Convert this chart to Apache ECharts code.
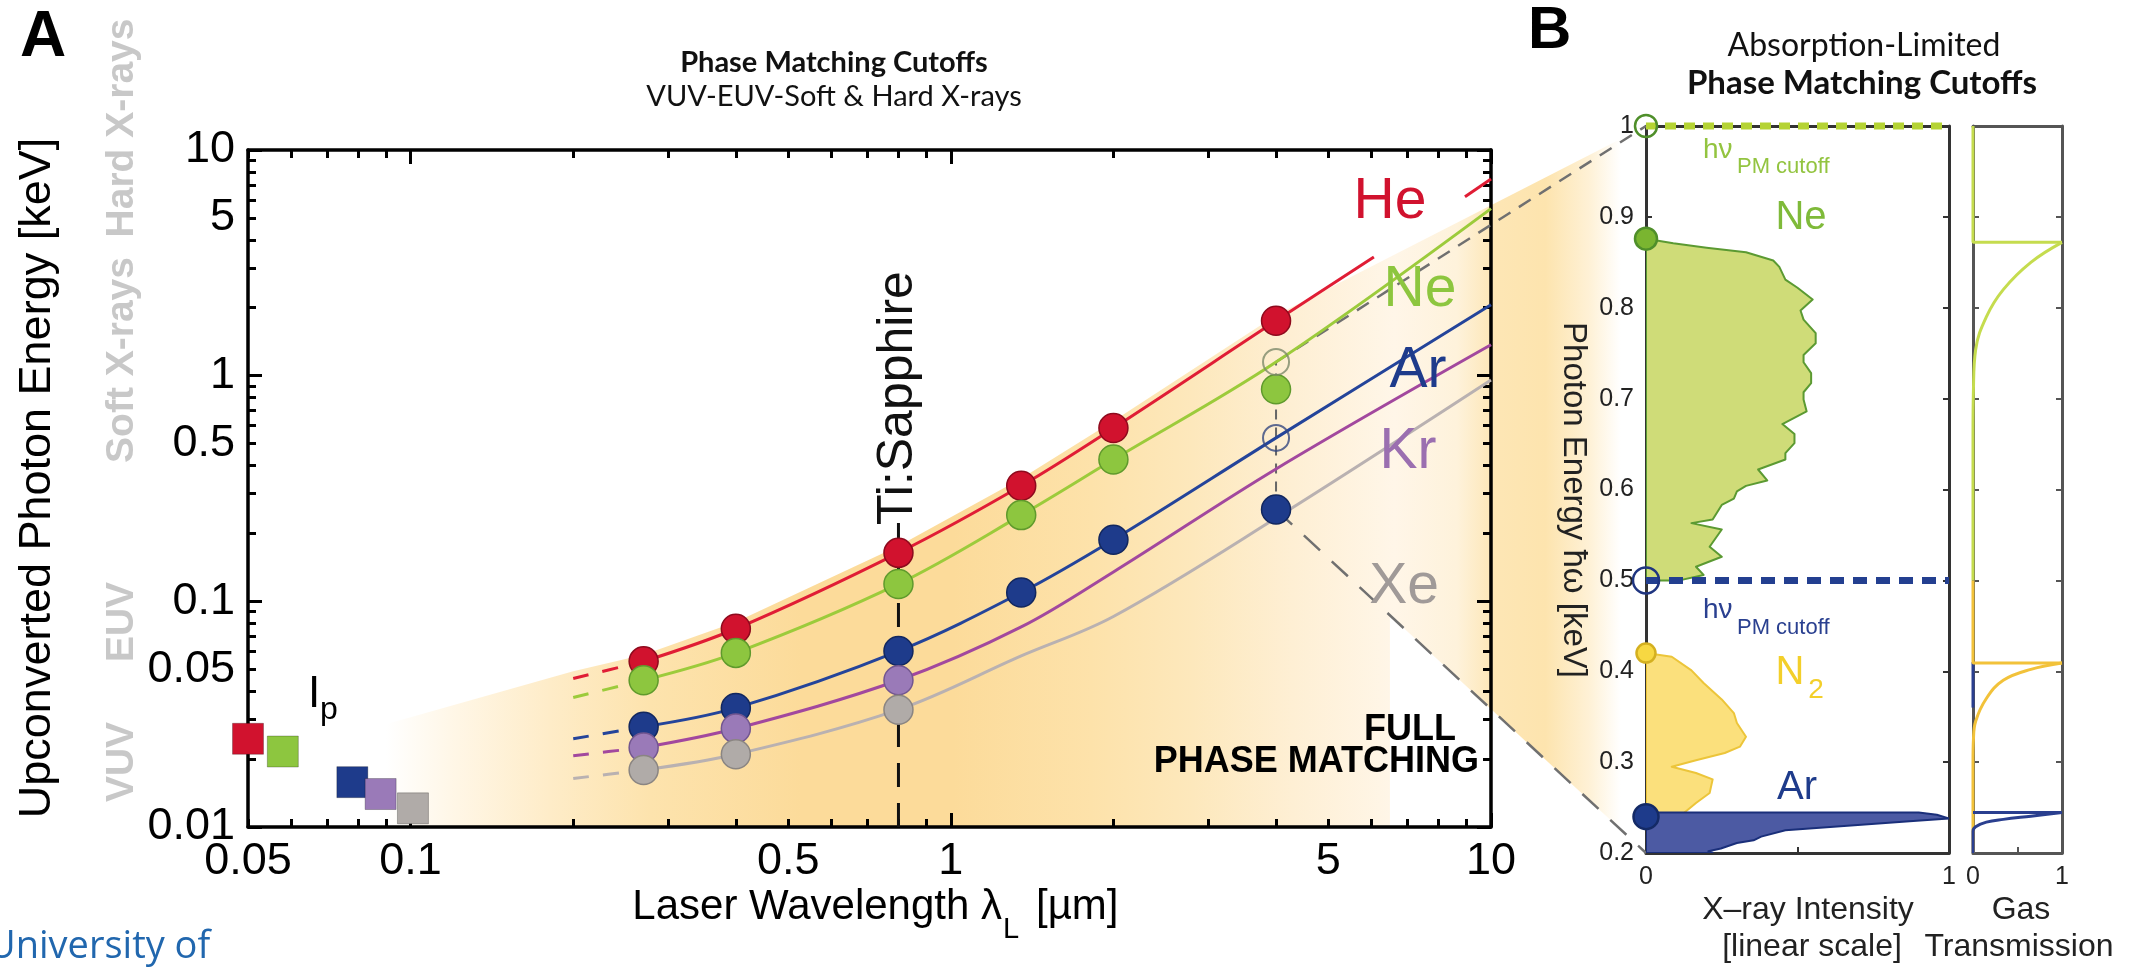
<!DOCTYPE html>
<html>
<head>
<meta charset="utf-8">
<script src="https://cdn.jsdelivr.net/npm/echarts@6/dist/echarts.min.js"></script>
<style>
  html, body { margin: 0; padding: 0; background: #ffffff; }
  #chart { width: 2141px; height: 967px; }
</style>
</head>
<body>
<div id="chart"></div>
<script>
// ---------- Panel A: phase-matching cutoffs vs. laser wavelength ----------
const gases = ['He', 'Ne', 'Ar', 'Kr', 'Xe'];

// measured cutoffs (filled circles): wavelength in µm, photon energy in keV
const measuredWavelengths = [0.27, 0.4, 0.8, 1.35, 2.0, 4.0];
const heMeasured = [0.0542, 0.0756, 0.164, 0.325, 0.586, 1.75];
const neMeasured = [0.0447, 0.0591, 0.1194, 0.241, 0.425, 0.87];
const arMeasured = [0.0278, 0.0337, 0.0602, 0.1094, 0.1875, 0.255];
const krMeasured = [0.0225, 0.0273, 0.0447];
const xeMeasured = [0.0179, 0.0210, 0.0331];

// predicted phase-matching cutoffs in the mid-IR (open circles)
const midIrWavelength = 4.0;
const nePmCutoff = 1.15;
const arPmCutoff = 0.53;

// ionization potentials (squares), keV, with their horizontal slots in µm
const ipSlots = [0.05, 0.058, 0.078, 0.088, 0.101];
const ionizationPotentials = [0.0246, 0.0216, 0.0158, 0.0140, 0.0121];

// theoretical cutoff curves [µm, keV]; the lead-in part is dashed
const heLead = [[0.2, 0.0455], [0.27, 0.0542]];
const heCurve = [[0.27, 0.0542], [0.4, 0.0756], [0.8, 0.164], [1.35, 0.325], [2.0, 0.586], [4.0, 1.75], [6.07, 3.36]];
const heCurveTail = [[8.95, 6.2], [10, 7.44]];
const neLead = [[0.2, 0.0375], [0.27, 0.0447]];
const neCurve = [[0.27, 0.0447], [0.4, 0.0591], [0.8, 0.1194], [1.35, 0.241], [2.0, 0.425], [4.0, 1.15], [10, 5.5]];
const arLead = [[0.2, 0.0246], [0.27, 0.0278]];
const arCurve = [[0.27, 0.0278], [0.4, 0.0337], [0.8, 0.0602], [1.35, 0.1094], [2.0, 0.1875], [4.0, 0.53], [10, 2.06]];
const krLead = [[0.2, 0.0207], [0.27, 0.0225]];
const krCurve = [[0.27, 0.0225], [0.4, 0.0273], [0.8, 0.0447], [1.35, 0.077], [2.0, 0.135], [4.0, 0.386], [10, 1.37]];
const xeLead = [[0.2, 0.0164], [0.27, 0.0179]];
const xeCurve = [[0.27, 0.0179], [0.4, 0.0210], [0.8, 0.0331], [1.35, 0.0573], [2.0, 0.0857], [4.0, 0.234], [10, 0.957]];

// full phase matching region: upper envelope [µm, keV] and its lower-right corner wavelength
const phaseMatchedEnvelope = [[0.09, 0.01], [0.09, 0.0285], [0.2, 0.049], [0.27, 0.058], [0.4, 0.081],
  [0.8, 0.176], [1.35, 0.35], [2.0, 0.63], [4.0, 1.85]];
const phaseMatchedCornerWavelength = 6.5;

// Ti:Sapphire marker
const tiSapphireWavelength = 0.8;
const tiSapphireLineTop = 0.23;

// axis ticks and labels (log axes)
const xTickLabels = [0.05, 0.1, 0.5, 1, 5, 10];
const xMajorTicks = [0.1, 1, 10];
const xMinorTicks = [0.05, 0.06, 0.07, 0.08, 0.09, 0.2, 0.3, 0.4, 0.5, 0.6, 0.7, 0.8, 0.9, 2, 3, 4, 5, 6, 7, 8, 9];
const yTickLabels = [0.01, 0.05, 0.1, 0.5, 1, 5, 10];
const yMajorTicks = [0.01, 0.1, 1, 10];
const yMinorTicks = [0.02, 0.03, 0.04, 0.05, 0.06, 0.07, 0.08, 0.09, 0.2, 0.3, 0.4, 0.5, 0.6, 0.7, 0.8, 0.9, 2, 3, 4, 5, 6, 7, 8, 9];

// ---------- Panel B: absorption-limited spectra ----------
const energyTicks = [0.2, 0.3, 0.4, 0.5, 0.6, 0.7, 0.8, 0.9, 1.0];
const intensityLabels = [0, 1];
const intensityTicks = [0.5];

// spectra outlines: [intensity (linear, 0..1), photon energy keV]
const neSpectrum = [[0, 0.876], [0.09, 0.871], [0.2, 0.866], [0.33, 0.861], [0.42, 0.852], [0.44, 0.845], [0.46, 0.831],
  [0.5, 0.822], [0.55, 0.809], [0.51, 0.797], [0.52, 0.787], [0.56, 0.772], [0.56, 0.761], [0.52, 0.748], [0.52, 0.74],
  [0.545, 0.728], [0.545, 0.717], [0.52, 0.707], [0.52, 0.699], [0.53, 0.686], [0.45, 0.672], [0.49, 0.661], [0.49, 0.651],
  [0.46, 0.64], [0.46, 0.633], [0.37, 0.622], [0.40, 0.61], [0.33, 0.604], [0.30, 0.598], [0.29, 0.59], [0.25, 0.583],
  [0.22, 0.567], [0.15, 0.563], [0.25, 0.556], [0.21, 0.537], [0.25, 0.526], [0.165, 0.515], [0.19, 0.506], [0.11, 0.5], [0, 0.5]];
const n2Spectrum = [[0, 0.42], [0.085, 0.416], [0.15, 0.401], [0.19, 0.387], [0.25, 0.369], [0.29, 0.354], [0.30, 0.343],
  [0.33, 0.328], [0.31, 0.317], [0.26, 0.31], [0.165, 0.302], [0.085, 0.295], [0.165, 0.288], [0.22, 0.281], [0.21, 0.266],
  [0.165, 0.255], [0.125, 0.244], [0.09, 0.235], [0.07, 0.227], [0.065, 0.21], [0.07, 0.2], [0, 0.2]];
const arSpectrum = [[0, 0.2445], [0.9, 0.2445], [0.96, 0.242], [1.0, 0.238], [0.87, 0.235], [0.665, 0.23], [0.46, 0.225],
  [0.38, 0.218], [0.355, 0.214], [0.30, 0.211], [0.247, 0.205], [0.206, 0.202], [0.22, 0.2], [0, 0.2]];

// cutoff energies (keV) marked on the energy axis
const neCutoffEnergy = 1.0;
const arCutoffEnergy = 0.5;
const neEdgeEnergy = 0.876;
const n2EdgeEnergy = 0.42;
const arEdgeEnergy = 0.24;

// gas transmission [transmission, keV]
const neTransmissionStep = [[0, 1.0], [0, 0.872], [1, 0.872]];
const neTransmissionCurve = [[1, 0.872], [0.65, 0.85], [0.34, 0.82], [0.15, 0.79], [0.03, 0.754], [0.005, 0.71], [0, 0.66], [0, 0.5]];
const n2TransmissionStep = [[0, 0.5], [0, 0.409], [1, 0.409]];
const n2TransmissionCurve = [[1, 0.409], [0.65, 0.402], [0.34, 0.39], [0.15, 0.37], [0.03, 0.345], [0.005, 0.325], [0, 0.3], [0, 0.2]];
const arTransmissionLow = [[0, 0.41], [0, 0.36]];
const arTransmissionStep = [[0, 0.2445], [1, 0.2445]];
const arTransmissionCurve = [[1, 0.2445], [0.65, 0.2405], [0.34, 0.237], [0.15, 0.234], [0.03, 0.229], [0, 0.224], [0, 0.2]];

// ---------- styles ----------
const FONT = '"Liberation Sans", Arial, Helvetica, sans-serif';
const TITLE_FONT = 'Lato, "Open Sans", sans-serif';
const gasColors = {
  He: { line: '#e01d35', fill: '#d1122e', edge: '#8e0a1d', text: '#d1122e' },
  Ne: { line: '#9ccb3b', fill: '#8dc63f', edge: '#5f9a2c', text: '#8dc63f' },
  Ar: { line: '#24449a', fill: '#1e3b8b', edge: '#12275f', text: '#1e3b8b' },
  Kr: { line: '#a2489e', fill: '#9a7ab8', edge: '#725690', text: '#9b6fb0' },
  Xe: { line: '#b9b1b1', fill: '#b0aba8', edge: '#8a8582', text: '#a09a98' }
};

const L = Math.log10;
const toLog = pts => pts.map(p => [L(p[0]), L(p[1])]);
const fmtLog = v => String(Number(Math.pow(10, v).toPrecision(2)));

function logAxis(dim, position, ticks, tickLen, labels, showLine) {
  const isX = dim === 'x';
  return {
    gridIndex: 0, type: 'value', position: position,
    min: isX ? L(0.05) : L(0.01), max: L(10),
    axisLine: { show: showLine, onZero: false, lineStyle: { color: '#000', width: 3.5 } },
    axisTick: { show: true, inside: true, length: tickLen, customValues: ticks.map(L), lineStyle: { color: '#000', width: 3 } },
    axisLabel: labels ? { show: true, customValues: labels.map(L), formatter: fmtLog, color: '#000', fontSize: 45, fontFamily: FONT, margin: isX ? 12 : 13 } : { show: false },
    splitLine: { show: false }
  };
}

function linAxis(gridIndex, position, min, max, color, ticks, labels, formatter) {
  return {
    gridIndex: gridIndex, type: 'value', position: position, min: min, max: max,
    axisLine: { show: true, onZero: false, lineStyle: { color: color, width: 3 } },
    axisTick: ticks ? { show: true, inside: true, length: 6, customValues: ticks, lineStyle: { color: color, width: 2 } } : { show: false },
    axisLabel: labels ? { show: true, customValues: labels, formatter: formatter, color: '#222', fontSize: 25, fontFamily: FONT, margin: 12 } : { show: false },
    splitLine: { show: false }
  };
}

function curveSeries(points, color, dashed) {
  return {
    type: 'line', xAxisIndex: 0, yAxisIndex: 0, data: toLog(points), smooth: 0.35,
    symbol: 'none', silent: true, z: 3, clip: false,
    lineStyle: { color: color, width: 3, type: dashed ? [16, 14] : 'solid' }
  };
}

function dotSeries(xs, ys, c, size) {
  return {
    type: 'scatter', xAxisIndex: 0, yAxisIndex: 0, symbol: 'circle', symbolSize: size || 29, z: 6, clip: false, silent: true,
    data: ys.map((y, i) => [L(xs[i]), L(y)]),
    itemStyle: { color: c.fill, borderColor: c.edge, borderWidth: 1.5, opacity: 1 }
  };
}

function bLine(gridIdx, points, color, width, dash, smooth) {
  const ax = gridIdx === 1 ? 4 : 6;
  return {
    type: 'line', xAxisIndex: ax, yAxisIndex: ax, data: points, symbol: 'none', silent: true, clip: false,
    smooth: smooth || false, z: 4,
    lineStyle: { color: color, width: width, type: dash || 'solid' }
  };
}

function spectrumSeries(points, fill, stroke) {
  return {
    type: 'custom', xAxisIndex: 4, yAxisIndex: 4, data: points, silent: true, z: 2, clip: true,
    renderItem: function (params, api) {
      if (params.dataIndex !== 0) return null;
      return {
        type: 'polygon',
        shape: { points: points.map(p => api.coord(p)) },
        style: { fill: fill, stroke: stroke, lineWidth: 2, lineJoin: 'round' }
      };
    }
  };
}

function bMarker(point, fill, stroke, size) {
  return {
    type: 'scatter', xAxisIndex: 4, yAxisIndex: 4, data: [point], symbol: 'circle', symbolSize: size,
    clip: false, silent: true, z: 7,
    itemStyle: { color: fill, borderColor: stroke, borderWidth: 2.5, opacity: 1 }
  };
}

const measuredSets = { He: heMeasured, Ne: neMeasured, Ar: arMeasured, Kr: krMeasured, Xe: xeMeasured };
const leads = { He: heLead, Ne: neLead, Ar: arLead, Kr: krLead, Xe: xeLead };
const curves = { He: heCurve, Ne: neCurve, Ar: arCurve, Kr: krCurve, Xe: xeCurve };

const series = [];
// Ti:Sapphire wavelength marker
series.push({
  type: 'line', xAxisIndex: 0, yAxisIndex: 0, symbol: 'none', silent: true, z: 2,
  data: [[L(tiSapphireWavelength), L(0.01)], [L(tiSapphireWavelength), L(tiSapphireLineTop)]],
  lineStyle: { color: '#111', width: 3, type: [24, 16] }
});
// vertical guide between predicted and measured mid-IR cutoffs
series.push({
  type: 'line', xAxisIndex: 0, yAxisIndex: 0, symbol: 'none', silent: true, z: 2,
  data: [[L(midIrWavelength), L(arMeasured[5])], [L(midIrWavelength), L(nePmCutoff)]],
  lineStyle: { color: '#666', width: 2, type: [10, 8] }
});
gases.forEach(g => {
  series.push(curveSeries(leads[g], gasColors[g].line, true));
  series.push(curveSeries(curves[g], gasColors[g].line, false));
});
series.push(curveSeries(heCurveTail, gasColors.He.line, false));
gases.forEach(g => {
  series.push(dotSeries(measuredWavelengths, measuredSets[g], gasColors[g]));
});
// predicted cutoffs (open circles)
series.push({
  type: 'scatter', xAxisIndex: 0, yAxisIndex: 0, symbol: 'circle', symbolSize: 26, z: 6, clip: false, silent: true,
  data: [
    { value: [L(midIrWavelength), L(nePmCutoff)], itemStyle: { color: 'rgba(0,0,0,0)', borderColor: '#7d8a6a', borderWidth: 2 } },
    { value: [L(midIrWavelength), L(arPmCutoff)], itemStyle: { color: 'rgba(0,0,0,0)', borderColor: '#35477f', borderWidth: 2 } }
  ]
});
// ionization potentials
gases.forEach((g, i) => {
  series.push({
    type: 'scatter', xAxisIndex: 0, yAxisIndex: 0, symbol: 'rect', symbolSize: 31, z: 6, clip: false, silent: true,
    data: [[L(ipSlots[i]), L(ionizationPotentials[i])]],
    itemStyle: { color: gasColors[g].fill, borderColor: 'rgba(0,0,0,0.25)', borderWidth: 1, opacity: 1 }
  });
});

// panel B spectra
series.push(spectrumSeries(neSpectrum, '#cfdc78', '#5b9a32'));
series.push(spectrumSeries(n2Spectrum, '#fbe07c', '#ecc53a'));
series.push(spectrumSeries(arSpectrum, '#4c5aa3', '#1a2f7a'));
// cutoff lines
series.push(bLine(1, [[0, neCutoffEnergy], [1, neCutoffEnergy]], '#b5d334', 7, [11, 8]));
series.push(bLine(1, [[0, arCutoffEnergy], [1, arCutoffEnergy]], '#233f90', 7, [14, 9]));
// edge markers
series.push(bMarker([0, neCutoffEnergy], 'rgba(0,0,0,0)', '#4f8f2a', 22));
series.push(bMarker([0, neEdgeEnergy], '#7ab530', '#4f8f2a', 22));
series.push(bMarker([0, arCutoffEnergy], 'rgba(0,0,0,0)', '#1f3580', 26));
series.push(bMarker([0, n2EdgeEnergy], '#f7d842', '#d4b020', 19));
series.push(bMarker([0, arEdgeEnergy], '#1e3b8b', '#142a66', 25));
// gas transmission
series.push(bLine(2, neTransmissionStep, '#c5dc4e', 3));
series.push(bLine(2, neTransmissionCurve, '#c5dc4e', 3, 'solid', 0.4));
series.push(bLine(2, arTransmissionLow, '#2a3f8f', 3));
series.push(bLine(2, n2TransmissionStep, '#f2c23a', 3));
series.push(bLine(2, n2TransmissionCurve, '#f2c23a', 3, 'solid', 0.4));
series.push(bLine(2, arTransmissionStep, '#2a3f8f', 3));
series.push(bLine(2, arTransmissionCurve, '#2a3f8f', 3, 'solid', 0.4));

const fmtEnergy = v => Math.abs(v - 1) < 1e-9 ? '1' : v.toFixed(1);
const fmtPlain = v => String(v);

const option = {
  animation: false,
  backgroundColor: '#ffffff',
  grid: [
    { left: 248, top: 150, width: 1243, height: 677, containLabel: false, outerBoundsMode: 'none' },
    { left: 1646, top: 126, width: 303, height: 727, containLabel: false, outerBoundsMode: 'none' },
    { left: 1973, top: 126, width: 89, height: 727, containLabel: false, outerBoundsMode: 'none' }
  ],
  xAxis: [
    logAxis('x', 'bottom', xMajorTicks, 14, xTickLabels, true),
    logAxis('x', 'bottom', xMinorTicks, 8, null, false),
    logAxis('x', 'top', xMajorTicks, 14, null, true),
    logAxis('x', 'top', xMinorTicks, 8, null, false),
    linAxis(1, 'bottom', 0, 1, '#333', intensityTicks, intensityLabels, fmtPlain),
    linAxis(1, 'top', 0, 1, '#333', null, null),
    linAxis(2, 'bottom', 0, 1, '#555', intensityTicks, intensityLabels, fmtPlain),
    linAxis(2, 'top', 0, 1, '#555', null, null)
  ],
  yAxis: [
    logAxis('y', 'left', yMajorTicks, 14, yTickLabels, true),
    logAxis('y', 'left', yMinorTicks, 8, null, false),
    logAxis('y', 'right', yMajorTicks, 14, null, true),
    logAxis('y', 'right', yMinorTicks, 8, null, false),
    linAxis(1, 'left', 0.2, 1, '#333', energyTicks, energyTicks, fmtEnergy),
    linAxis(1, 'right', 0.2, 1, '#333', energyTicks, null),
    linAxis(2, 'left', 0.2, 1, '#555', energyTicks, null),
    linAxis(2, 'right', 0.2, 1, '#555', energyTicks, null)
  ],
  series: series
};

const chart = echarts.init(document.getElementById('chart'), null, { renderer: 'canvas' });
chart.setOption(option);

// ---------- shaded region, zoom connectors and annotations ----------
const pA = (w, e) => chart.convertToPixel({ xAxisIndex: 0, yAxisIndex: 0 }, [L(w), L(e)]);
const pB = (i, e) => chart.convertToPixel({ xAxisIndex: 4, yAxisIndex: 4 }, [i, e]);

const bTop = pB(0, neCutoffEnergy);
const bBottom = pB(0, 0.2);
const upperStart = pA(midIrWavelength, nePmCutoff);
const lowerStart = pA(midIrWavelength, arMeasured[5]);
const cornerX = pA(phaseMatchedCornerWavelength, 0.01)[0];
const t = (cornerX - lowerStart[0]) / (bBottom[0] - lowerStart[0]);
const cornerOnConnector = [cornerX, lowerStart[1] + t * (bBottom[1] - lowerStart[1])];

const shadePts = phaseMatchedEnvelope.map(p => pA(p[0], p[1]));
shadePts.push(bTop, bBottom, cornerOnConnector, pA(phaseMatchedCornerWavelength, 0.01));

const x0 = shadePts[0][0];
const x1 = bTop[0];
const shadeStops = [
  [0.00, '#ffffff'], [0.05, '#fff7e8'], [0.13, '#feecc8'], [0.21, '#fde3ad'], [0.33, '#fcdb9a'],
  [0.45, '#fcdb9a'], [0.56, '#fde2aa'], [0.64, '#fde8bc'], [0.72, '#feefd4'], [0.80, '#fff6e8'],
  [0.85, '#fef2db'], [0.88, '#fde6b5'], [0.92, '#fde4ae'], [0.955, '#fef1d6'], [0.98, '#ffffff'], [1.0, '#ffffff']
];

function txt(x, y, text, size, color, opts) {
  opts = opts || {};
  return {
    type: 'text', x: x, y: y, rotation: opts.rotation || 0, z: 20, silent: true,
    style: {
      text: text, fill: color || '#000', fontSize: size, fontFamily: opts.family || FONT,
      fontWeight: opts.weight || 'normal', align: opts.align || 'center', verticalAlign: 'middle'
    }
  };
}

const R90 = Math.PI / 2;
const elements = [
  {
    type: 'polygon', z: -1, silent: true,
    shape: { points: shadePts },
    style: {
      fill: { type: 'linear', x: x0, y: 0, x2: x1, y2: 0, global: true,
        colorStops: shadeStops.map(s => ({ offset: s[0], color: s[1] })) }
    }
  },
  { type: 'line', z: 1, silent: true, shape: { x1: upperStart[0], y1: upperStart[1], x2: bTop[0], y2: bTop[1] },
    style: { stroke: '#707070', lineWidth: 2.5, lineDash: [14, 10] } },
  { type: 'line', z: 1, silent: true, shape: { x1: lowerStart[0], y1: lowerStart[1], x2: bBottom[0], y2: bBottom[1] },
    style: { stroke: '#707070', lineWidth: 2.5, lineDash: [22, 16] } },

  // panel letters and titles
  txt(20, 38, 'A', 64, '#000', { weight: 'bold', align: 'left' }),
  txt(1528, 31, 'B', 60, '#000', { weight: 'bold', align: 'left' }),
  txt(834, 63, 'Phase Matching Cutoffs', 29, '#111', { family: TITLE_FONT, weight: 'bold' }),
  txt(834, 97, 'VUV-EUV-Soft & Hard X-rays', 29, '#111', { family: TITLE_FONT }),
  txt(1864, 46, 'Absorption-Limited', 32, '#111', { family: TITLE_FONT }),
  txt(1862, 83, 'Phase Matching Cutoffs', 33, '#111', { family: TITLE_FONT, weight: 'bold' }),

  // panel A axis titles
  txt(38, 478, 'Upconverted Photon Energy [keV]', 45, '#000', { rotation: R90 }),
  txt(1002, 907, 'Laser Wavelength λ', 42, '#000', { align: 'right' }),
  txt(1003, 930, 'L', 29, '#000', { align: 'left' }),
  txt(1036, 907, '[µm]', 42, '#000', { align: 'left' }),

  // spectral regions
  txt(122, 128, 'Hard X-rays', 39, '#c8c8c8', { rotation: R90, weight: 'bold' }),
  txt(122, 360, 'Soft X-rays', 39, '#c8c8c8', { rotation: R90, weight: 'bold' }),
  txt(122, 622, 'EUV', 39, '#c8c8c8', { rotation: R90, weight: 'bold' }),
  txt(122, 762, 'VUV', 39, '#c8c8c8', { rotation: R90, weight: 'bold' }),

  // gas labels
  txt(1390, 202, 'He', 57, gasColors.He.text),
  txt(1420, 290, 'Ne', 57, gasColors.Ne.text),
  txt(1418, 371, 'Ar', 57, gasColors.Ar.text),
  txt(1408, 452, 'Kr', 57, gasColors.Kr.text),
  txt(1404, 587, 'Xe', 57, gasColors.Xe.text),

  txt(898, 398, 'Ti:Sapphire', 50, '#111', { rotation: R90 }),
  txt(308, 695, 'I', 44, '#000', { align: 'left' }),
  txt(320, 710, 'p', 32, '#000', { align: 'left' }),
  txt(1456, 730, 'FULL', 36, '#000', { weight: 'bold', align: 'right' }),
  txt(1479, 762, 'PHASE MATCHING', 36, '#000', { weight: 'bold', align: 'right' }),

  // panel B annotations
  txt(1703, 150, 'hν', 28, '#93c440', { align: 'left' }),
  txt(1737, 167, 'PM cutoff', 22, '#93c440', { align: 'left' }),
  txt(1703, 610, 'hν', 28, '#2a4090', { align: 'left' }),
  txt(1737, 628, 'PM cutoff', 22, '#2a4090', { align: 'left' }),
  txt(1801, 218, 'Ne', 40, '#7fba3a'),
  txt(1790, 673, 'N', 40, '#f3cf2a'),
  txt(1816, 690, '2', 28, '#f3cf2a'),
  txt(1797, 788, 'Ar', 40, '#1e3b8b'),
  txt(1573, 500, 'Photon Energy ħω [keV]', 33, '#222', { rotation: -R90 }),
  txt(1808, 910, 'X–ray Intensity', 32, '#222'),
  txt(1812, 947, '[linear scale]', 32, '#222'),
  txt(2021, 910, 'Gas', 32, '#222'),
  txt(2019, 947, 'Transmission', 32, '#222'),

  txt(-12, 947, 'University of', 38, '#2167ae', { align: 'left', family: '"Open Sans", sans-serif' })
];

chart.setOption({ graphic: { elements: elements } });
</script>
</body>
</html>
